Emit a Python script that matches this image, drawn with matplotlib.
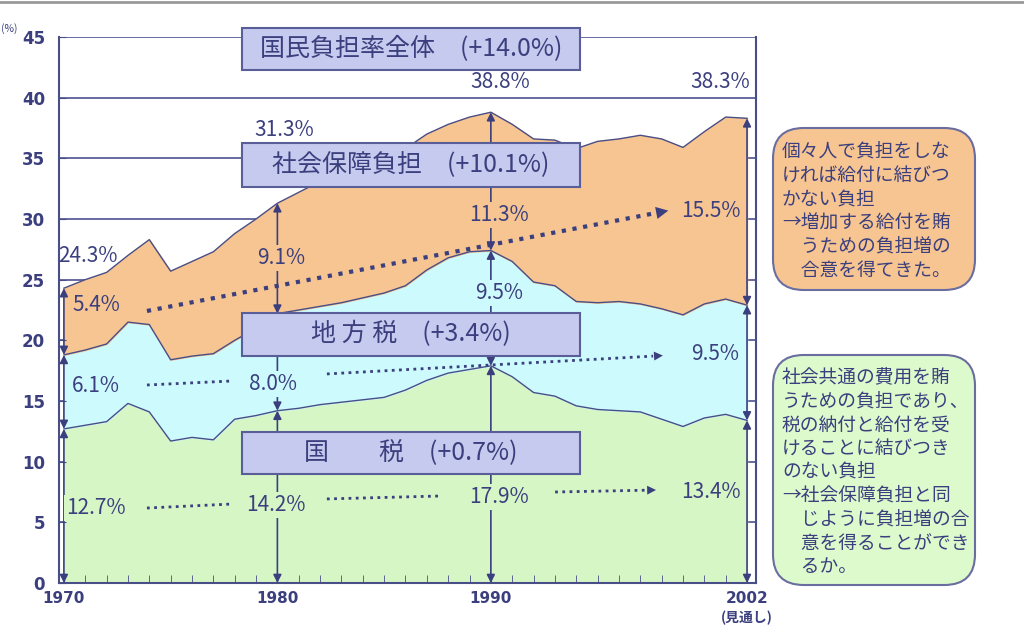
import numpy as np
import matplotlib.pyplot as plt
from matplotlib.patches import Rectangle, FancyBboxPatch
from matplotlib.lines import Line2D

plt.rcParams['font.family'] = ['Noto Sans CJK JP', 'DejaVu Sans']

# data (percent of national income), 1970 - 2002
years = np.arange(1970, 2003)
national = [12.7, 13.0, 13.3, 14.8, 14.1, 11.7, 12.0, 11.8, 13.5, 13.8, 14.2,
            14.4, 14.7, 14.9, 15.1, 15.3, 15.9, 16.7, 17.3, 17.6, 17.9,
            17.0, 15.7, 15.4, 14.6, 14.3, 14.2, 14.1, 13.5, 12.9, 13.6, 13.9, 13.4]
local = [6.1, 6.2, 6.4, 6.7, 7.2, 6.7, 6.7, 7.1, 6.5, 7.2, 8.0,
         8.1, 8.1, 8.2, 8.4, 8.6, 8.6, 9.1, 9.5, 9.7, 9.5,
         9.5, 9.1, 9.1, 8.6, 8.8, 9.0, 8.9, 9.1, 9.2, 9.4, 9.5, 9.5]
social = [5.5, 5.8, 5.9, 5.5, 7.0, 7.3, 7.8, 8.4, 8.8, 9.0, 9.1,
          9.7, 10.3, 10.7, 10.9, 11.1, 11.3, 11.2, 11.0, 11.1, 11.4,
          11.3, 11.8, 12.0, 12.6, 13.3, 13.4, 13.9, 14.0, 13.8, 14.2, 15.0, 15.4]

mark_years = [1970, 1980, 1990, 2002]
total_lbl = ['24.3%', '31.3%', '38.8%', '38.3%']
social_lbl = ['5.4%', '9.1%', '11.3%', '15.5%']
local_lbl = ['6.1%', '8.0%', '9.5%', '9.5%']
national_lbl = ['12.7%', '14.2%', '17.9%', '13.4%']

box_texts = ['国民負担率全体　(+14.0%)', '社会保障負担　(+10.1%)',
             '地 方 税　(+3.4%)', '国　　税　(+0.7%)']

note1 = ['個々人で負担をしな', 'ければ給付に結びつ', 'かない負担',
         '→増加する給付を賄', '　うための負担増の', '　合意を得てきた。']
note2 = ['社会共通の費用を賄', 'うための負担であり、', '税の納付と給付を受',
         'けることに結びつき', 'のない負担', '→社会保障負担と同',
         '　じように負担増の合', '　意を得ることができ', '　るか。']

navy = '#3b3f7e'
c_nat = '#d6f6c6'
c_loc = '#ccfafd'
c_soc = '#f6c592'
c_box = '#c6caee'

nat = np.array(national)
loc_top = nat + np.array(local)
tot = loc_top + np.array(social)

fig = plt.figure(figsize=(10.24, 6.43), dpi=100)
ax = fig.add_axes([59/1024, 60/643, 697/1024, 546/643])

for g in range(5, 46, 5):
    ax.axhline(g, color='#5b5f98', lw=1.3, zorder=0)

ax.fill_between(years, 0, nat, color=c_nat, zorder=1)
ax.fill_between(years, nat, loc_top, color=c_loc, zorder=1)
ax.fill_between(years, loc_top, tot, color=c_soc, zorder=1)
for s in (nat, loc_top, tot):
    ax.plot(years, s, color='#4a4e86', lw=1.0, zorder=2)

ax.set_xlim(1969.77, 2002.42)
ax.set_ylim(0, 45)
ax.spines['top'].set_visible(False)
for sp in ('left', 'right', 'bottom'):
    ax.spines[sp].set_color('#4a4e86')
    ax.spines[sp].set_linewidth(1.5)
ax.set_xticks(mark_years)
ax.set_xticklabels([str(y) for y in mark_years])
ax.set_xticks(years, minor=True)
ax.tick_params(axis='x', which='both', direction='in', length=6, color='#4a4e86',
               labelsize=11, labelcolor=navy, pad=6)
ax.set_yticks(range(0, 46, 5))
ax.tick_params(axis='y', direction='in', length=5, color='#4a4e86',
               labelsize=12, labelcolor=navy, pad=10)
for t in ax.get_xticklabels() + ax.get_yticklabels():
    t.set_fontweight('bold')
    t.set_family('DejaVu Sans')

fig.text(1/1024, 1 - 29/643, '(%)', fontsize=7.5, color=navy, va='center')
ax.text(2002, -2.85, '(見通し)', fontsize=10, color=navy, ha='center', va='center',
        fontweight='bold', clip_on=False)

# vertical double arrows at the marked years
for yr in mark_years:
    i = yr - 1970
    lv = [0, nat[i], loc_top[i], tot[i]]
    for a, b in zip(lv[:-1], lv[1:]):
        ax.annotate('', xy=(yr, b), xytext=(yr, a),
                    arrowprops=dict(arrowstyle='<|-|>', color=navy, lw=1.2,
                                    mutation_scale=12, shrinkA=0, shrinkB=0),
                    zorder=3)

# category boxes
box_y = [(42.29, 45.75), (32.65, 36.27), (18.71, 22.26), (8.99, 12.45)]
for txt, (y0, y1) in zip(box_texts, box_y):
    ax.add_patch(Rectangle((1978.34, y0), 1994.18 - 1978.34, y1 - y0,
                           facecolor=c_box, edgecolor='#5a5e98', lw=1.5,
                           zorder=6, clip_on=False))
    ax.text((1978.34 + 1994.18) / 2, (y0 + y1) / 2, txt, fontsize=18,
            color=navy, ha='center', va='center', zorder=7)

# value labels
def lab(x, y, s, ha='center', bg=None):
    kw = {}
    if bg is not None:
        kw['bbox'] = dict(boxstyle='square,pad=0.1', fc=bg, ec='none')
    ax.text(x, y, s, fontsize=15, color=navy, ha=ha, va='center', zorder=5, **kw)

lab(1969.75, 26.95, total_lbl[0], ha='left')
lab(1970.42, 22.9, social_lbl[0], ha='left', bg=c_soc)
lab(1970.38, 16.2, local_lbl[0], ha='left', bg=c_loc)
lab(1970.1, 6.2, national_lbl[0], ha='left', bg=c_nat)
lab(1980.3, 37.35, total_lbl[1])
lab(1980.2, 26.8, social_lbl[1], bg=c_soc)
lab(1979.8, 16.4, local_lbl[1], bg=c_loc)
lab(1979.95, 6.4, national_lbl[1], bg=c_nat)
lab(1990.45, 41.3, total_lbl[2])
lab(1990.4, 30.3, social_lbl[2], bg=c_soc)
lab(1990.4, 23.9, local_lbl[2], bg=c_loc)
lab(1990.4, 7.1, national_lbl[2], bg=c_nat)
lab(2000.75, 41.3, total_lbl[3])
lab(2000.3, 30.7, social_lbl[3])
lab(2000.5, 18.9, local_lbl[3])
lab(2000.3, 7.5, national_lbl[3])

# dotted trend arrows
def dotted(x0, y0, x1, y1, lw, head=False, hs=16):
    ax.plot([x0, x1], [y0, y1], ls=(0, (1, 1.6)), color=navy, lw=lw, zorder=4)
    if head:
        dx, dy = x1 - x0, y1 - y0
        ax.annotate('', xy=(x1 + dx * 0.03, y1 + dy * 0.03), xytext=(x1, y1),
                    arrowprops=dict(arrowstyle='-|>', color=navy, lw=0,
                                    mutation_scale=hs, shrinkA=0, shrinkB=0),
                    zorder=4)

dotted(1973.89, 22.42, 1997.6, 30.45, 3.0, head=True, hs=22)
dotted(1973.89, 16.32, 1977.87, 16.65, 2.0)
dotted(1982.32, 17.23, 1997.6, 18.7, 2.0, head=True)
dotted(1973.89, 6.18, 1977.87, 6.51, 2.0)
dotted(1982.32, 6.93, 1987.62, 7.17, 2.0)
dotted(1993.01, 7.5, 1997.6, 7.66, 2.0, head=True)

# side notes
def note(x0, y0, x1, y1, fc, lines, y_first, step):
    W, H = 1024, 643
    fig.patches.append(FancyBboxPatch((x0 / W, 1 - y1 / H), (x1 - x0) / W, (y1 - y0) / H,
                                      boxstyle='round,pad=0,rounding_size=0.03',
                                      transform=fig.transFigure, facecolor=fc,
                                      edgecolor='#6a6d9f', lw=1.5,
                                      mutation_aspect=1024 / 643))
    for k, s in enumerate(lines):
        fig.text((x0 + 9) / W, 1 - (y_first + k * step) / H, s, fontsize=13.5,
                 color=navy, va='center', ha='left')

note(773, 128, 975, 290, c_soc, note1, 152, 23.8)
note(773, 355, 975, 585, '#ddfacd', note2, 378, 23.6)

fig.add_artist(Line2D([0, 1], [1 - 2 / 643, 1 - 2 / 643], transform=fig.transFigure,
                      color='#999999', lw=2))

fig.savefig('out.png', dpi=100)
